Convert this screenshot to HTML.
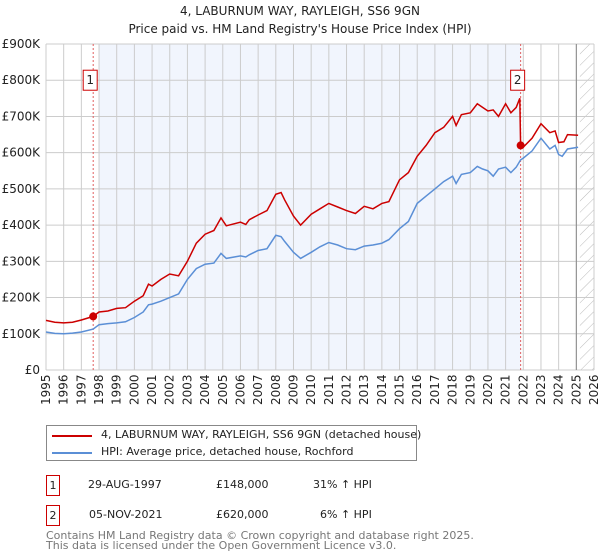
<!DOCTYPE html>
<html><head><meta charset="utf-8"><style>
body{margin:0;background:#fff;font-family:"DejaVu Sans","Liberation Sans",sans-serif;}
#wrap{position:relative;width:600px;height:560px;overflow:hidden}
.t{position:absolute;font-size:12px;color:#222;white-space:nowrap}
</style></head><body><div id="wrap">
<div class="t" style="left:0;width:600px;text-align:center;top:4px">4, LABURNUM WAY, RAYLEIGH, SS6 9GN</div>
<div class="t" style="left:0;width:600px;text-align:center;top:22px">Price paid vs. HM Land Registry's House Price Index (HPI)</div>
<svg id="c" width="600" height="420" style="position:absolute;left:0;top:0"></svg>
<div style="position:absolute;left:46px;top:425px;width:369px;height:34px;border:1px solid #888;">
<div style="position:absolute;left:5px;top:9px;width:40px;height:2px;background:#cc0000"></div>
<div class="t" style="left:54px;top:2px;font-size:11px">4, LABURNUM WAY, RAYLEIGH, SS6 9GN (detached house)</div>
<div style="position:absolute;left:5px;top:26px;width:40px;height:2px;background:#5b8fd6"></div>
<div class="t" style="left:54px;top:19px;font-size:11px">HPI: Average price, detached house, Rochford</div>
</div>
<div>
<div class="t" style="left:46px;top:475px;width:12px;height:19px;border:1px solid #cc0000;text-align:center;line-height:19px;font-size:11px">1</div>
<div class="t" style="left:88px;top:478px;font-size:11px">29-AUG-1997</div>
<div class="t" style="left:216px;top:478px;font-size:11px">£148,000</div>
<div class="t" style="left:313px;top:478px;font-size:11px">31% ↑ HPI</div></div>
<div>
<div class="t" style="left:46px;top:505px;width:12px;height:19px;border:1px solid #cc0000;text-align:center;line-height:19px;font-size:11px">2</div>
<div class="t" style="left:89px;top:508px;font-size:11px">05-NOV-2021</div>
<div class="t" style="left:216px;top:508px;font-size:11px">£620,000</div>
<div class="t" style="left:320px;top:508px;font-size:11px">6% ↑ HPI</div></div>
<div class="t" style="left:46px;top:531px;font-size:11px;color:#777;line-height:10px">Contains HM Land Registry data © Crown copyright and database right 2025.<br>This data is licensed under the Open Government Licence v3.0.</div>
</div>
<script>
const yTicks=[0,100,200,300,400,500,600,700,800,900];
const yTickLabels=["£0","£100K","£200K","£300K","£400K","£500K","£600K","£700K","£800K","£900K"];
const years=[1995,1996,1997,1998,1999,2000,2001,2002,2003,2004,2005,2006,2007,2008,2009,2010,2011,2012,2013,2014,2015,2016,2017,2018,2019,2020,2021,2022,2023,2024,2025,2026];
const redT=[1995,1995.5,1996,1996.5,1997,1997.67,1998,1998.5,1999,1999.5,2000,2000.5,2000.8,2001,2001.5,2002,2002.5,2003,2003.5,2004,2004.5,2004.9,2005.2,2006,2006.3,2006.5,2007,2007.5,2008,2008.3,2008.5,2009,2009.4,2010,2010.5,2011,2011.5,2012,2012.5,2013,2013.5,2014,2014.4,2015,2015.5,2016,2016.5,2017,2017.5,2018,2018.2,2018.5,2019,2019.4,2019.7,2020,2020.3,2020.6,2021,2021.3,2021.6,2021.8,2021.85,2022,2022.5,2023,2023.5,2023.8,2024,2024.3,2024.5,2025.1];
const redV=[137,132,130,132,138,148,160,163,170,172,190,205,237,232,250,265,260,300,350,375,385,420,398,408,402,415,428,440,485,490,470,425,400,430,445,460,450,440,432,452,445,460,465,525,545,590,620,655,670,700,675,705,710,735,725,715,718,700,735,710,725,750,620,615,640,680,655,660,628,630,650,648];
const blueT=[1995,1995.5,1996,1996.5,1997,1997.67,1998,1998.5,1999,1999.5,2000,2000.5,2000.8,2001,2001.5,2002,2002.5,2003,2003.5,2004,2004.5,2004.9,2005.2,2006,2006.3,2006.5,2007,2007.5,2008,2008.3,2008.5,2009,2009.4,2010,2010.5,2011,2011.5,2012,2012.5,2013,2013.5,2014,2014.4,2015,2015.5,2016,2016.5,2017,2017.5,2018,2018.2,2018.5,2019,2019.4,2019.7,2020,2020.3,2020.6,2021,2021.3,2021.6,2021.85,2022,2022.5,2023,2023.5,2023.8,2024,2024.2,2024.5,2025.1];
const blueV=[105,101,100,102,105,113,125,128,130,133,145,160,180,182,190,200,210,250,280,292,295,322,308,315,312,318,330,335,372,368,355,325,308,325,340,352,345,335,332,342,345,350,360,390,410,460,480,500,520,535,515,540,545,562,555,550,535,555,560,545,560,580,585,605,640,610,620,595,590,610,615];
const sales=[[1997.67,148],[2021.85,620]];
const X0=46,X1=594,Y0=370,Y1=44;
const xs=y=>X0+(y-1995)/(2026-1995)*(X1-X0);
const ys=v=>Y0-v/900*(Y0-Y1);
const svg=document.getElementById('c');const NS='http://www.w3.org/2000/svg';
const FF='DejaVu Sans, Liberation Sans, sans-serif';
function mk(tag,attrs,name){const e=document.createElementNS(NS,tag);for(const k in attrs)e.setAttribute(k,attrs[k]);


svg.appendChild(e);return e;}
mk('rect',{x:xs(1998),y:Y1,width:xs(2021.85)-xs(1998),height:Y0-Y1,fill:'#eef3fc',opacity:0.8},'owned-period-shade');
const defs=document.createElementNS(NS,'defs');defs.innerHTML='<pattern id="h" width="8" height="8" patternUnits="userSpaceOnUse" patternTransform="rotate(45)"><line x1="0" y1="0" x2="0" y2="8" stroke="#bbb" stroke-width="1"/></pattern>';svg.appendChild(defs);
mk('rect',{x:xs(2025.2),y:Y1,width:X1-xs(2025.2),height:Y0-Y1,fill:'url(#h)'},'forecast-hatch');
years.forEach(y=>{mk('line',{x1:xs(y),x2:xs(y),y1:Y1,y2:Y0,stroke:'#ccc','stroke-width':1},'x-gridline');
const t=mk('text',{x:0,y:0,transform:`translate(${xs(y)+4},${Y0+35}) rotate(-90)`,'font-size':12,fill:'#222','font-family':FF},'x-tick-label');t.textContent=y;});
yTicks.forEach((v,i)=>{mk('line',{x1:X0,x2:X1,y1:ys(v),y2:ys(v),stroke:'#ccc','stroke-width':1},'y-gridline');
const t=mk('text',{x:X0-6,y:ys(v)+4,'text-anchor':'end','font-size':12,fill:'#222','font-family':FF},'y-tick-label');t.textContent=yTickLabels[i];});
mk('line',{x1:xs(2025),x2:xs(2025),y1:Y1,y2:Y0,stroke:'#888','stroke-width':1},'latest-data-line');
sales.forEach(s=>mk('line',{x1:xs(s[0]),x2:xs(s[0]),y1:Y1,y2:Y0,stroke:'#e06060','stroke-width':1,'stroke-dasharray':'2,2'},'sale-marker-line'));
const pts=(T,V)=>T.map((t,i)=>xs(t).toFixed(1)+','+ys(V[i]).toFixed(1)).join(' ');
mk('polyline',{points:pts(blueT,blueV),fill:'none',stroke:'#5b8fd6','stroke-width':1.5},'hpi-line');
mk('polyline',{points:pts(redT,redV),fill:'none',stroke:'#cc0000','stroke-width':1.5},'property-price-line');
sales.forEach((s,i)=>{mk('circle',{cx:xs(s[0]),cy:ys(s[1]),r:4,fill:'#cc0000'},'sale-point');
const bx=xs(s[0])-3;mk('rect',{x:bx-7,y:ys(800)-10,width:14,height:20,fill:'#fff',stroke:'#cc0000'},'sale-label-box');
const t=mk('text',{x:bx,y:ys(800)+4,'text-anchor':'middle','font-size':12,fill:'#222','font-family':FF},'sale-label');t.textContent=i+1;});
</script></body></html>
